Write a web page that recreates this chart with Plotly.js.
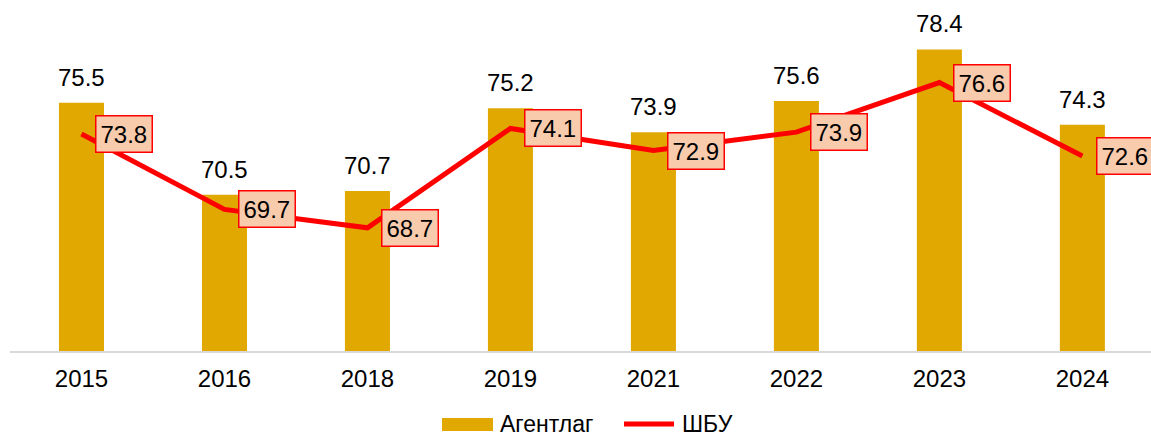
<!DOCTYPE html>
<html>
<head>
<meta charset="utf-8">
<script src="https://cdn.plot.ly/plotly-3.0.1.min.js"></script>
<style>html,body{margin:0;padding:0;background:#fff;} #chart{width:1151px;height:438px;}</style>
</head>
<body>
<div id="chart"></div>
<script>
const years = ['2015', '2016', '2018', '2019', '2021', '2022', '2023', '2024'];
const agency = [75.5, 70.5, 70.7, 75.2, 73.9, 75.6, 78.4, 74.3];
const shbu = [73.8, 69.7, 68.7, 74.1, 72.9, 73.9, 76.6, 72.6];
const agencyName = 'Агентлаг';
const shbuName = 'ШБУ';

const FONT = 'Liberation Sans, Arial, sans-serif';
const BAR_COLOR = '#E0A800';
const LINE_COLOR = '#FF0000';

const bars = {
  type: 'bar', x: years, y: agency, name: agencyName,
  marker: {color: BAR_COLOR}, width: 0.315,
  hoverinfo: 'skip', showlegend: false
};
const line = {
  type: 'scatter', mode: 'lines', x: years, y: shbu, name: shbuName,
  line: {color: LINE_COLOR, width: 5}, hoverinfo: 'skip', showlegend: false
};

const annotations = [];
years.forEach((yr, i) => {
  annotations.push({
    x: i, y: agency[i], xref: 'x', yref: 'y',
    text: agency[i].toFixed(1), showarrow: false,
    xanchor: 'center', yanchor: 'bottom', yshift: 10,
    font: {family: FONT, size: 24, color: '#000'}
  });
  annotations.push({
    x: i, y: shbu[i], xref: 'x', yref: 'y',
    text: shbu[i].toFixed(1), showarrow: false,
    xanchor: 'left', yanchor: 'middle', xshift: 14,
    bgcolor: '#F8CBAD', bordercolor: LINE_COLOR, borderwidth: 1.5, borderpad: 4,
    font: {family: FONT, size: 24, color: '#000'}
  });
});

// custom legend (paper coords: plot area x 10..1151, y 20..351)
const px = v => (v - 10) / 1141;
const py = v => (351 - v) / 331;
annotations.push({xref: 'paper', yref: 'paper', x: px(498), y: py(424), xanchor: 'left', yanchor: 'middle',
  text: agencyName, showarrow: false, font: {family: FONT, size: 23, color: '#000'}});
annotations.push({xref: 'paper', yref: 'paper', x: px(680), y: py(424), xanchor: 'left', yanchor: 'middle',
  text: shbuName, showarrow: false, font: {family: FONT, size: 23, color: '#000'}});

const shapes = [
  {type: 'rect', xref: 'paper', yref: 'paper', x0: px(442), x1: px(493), y0: py(418), y1: py(431),
   fillcolor: BAR_COLOR, line: {width: 0}},
  {type: 'line', xref: 'paper', yref: 'paper', x0: px(624), x1: px(674), y0: py(424), y1: py(424),
   line: {color: LINE_COLOR, width: 5}}
];

const layout = {
  width: 1151, height: 438,
  margin: {l: 10, r: 0, t: 20, b: 87},
  paper_bgcolor: '#fff', plot_bgcolor: '#fff',
  xaxis: {type: 'category', range: [-0.5, 7.48], showline: true, linecolor: '#D9D9D9', linewidth: 1.5,
          showgrid: false, zeroline: false, ticks: '', ticklabelstandoff: 6,
          tickfont: {family: FONT, size: 24, color: '#000'}},
  yaxis: {range: [62, 80], visible: false, showgrid: false, zeroline: false},
  showlegend: false,
  annotations: annotations,
  shapes: shapes
};

Plotly.newPlot('chart', [bars, line], layout, {staticPlot: true, displayModeBar: false});
</script>
</body>
</html>
